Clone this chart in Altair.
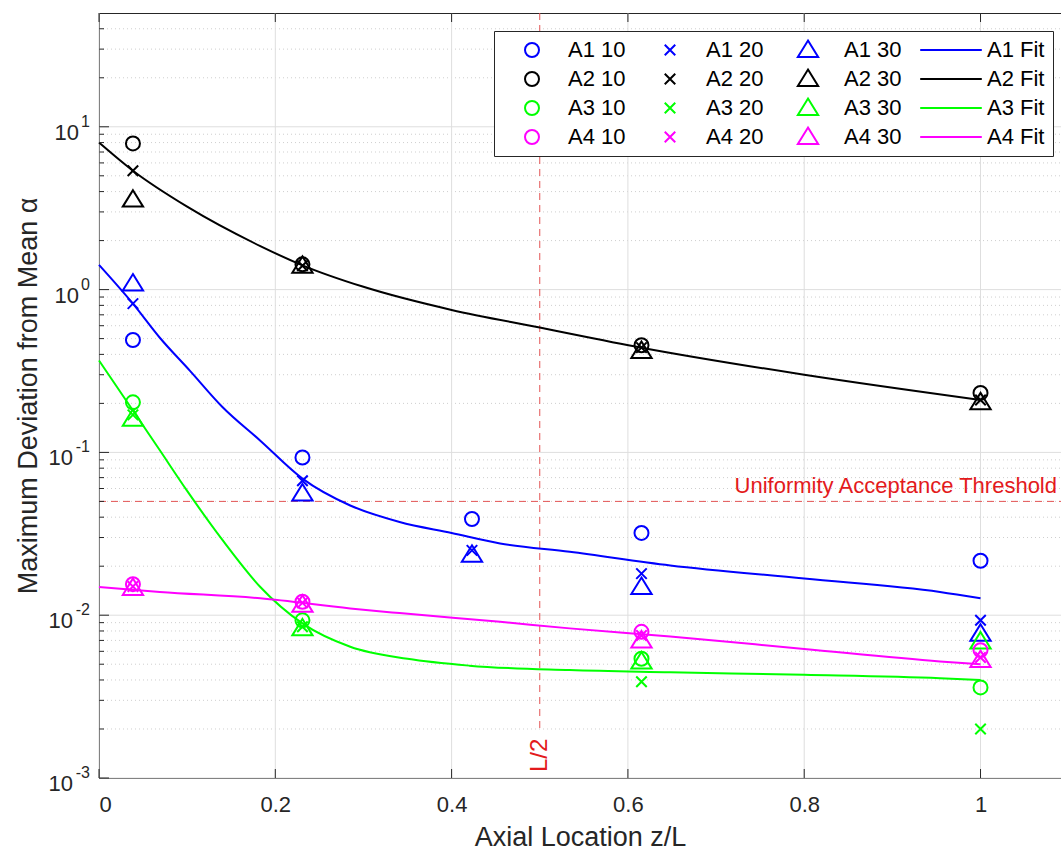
import altair as alt
import pandas as pd

# ---------------- data ----------------
X_MEAS = [0.0385, 0.2308, 0.4231, 0.6154, 1.0]

A1_10 = [0.49, 0.093, 0.039, 0.032, 0.0216]
A1_20 = [0.82, 0.067, 0.025, 0.018, 0.0093]
A1_30 = [1.09, 0.056, 0.0235, 0.0149, 0.0077]
A2_10 = [7.9, 1.43, None, 0.455, 0.232]
A2_20 = [5.37, 1.40, None, 0.44, 0.21]
A2_30 = [3.57, 1.40, None, 0.42, 0.203]
A3_10 = [0.203, 0.0093, None, 0.0054, 0.0036]
A3_20 = [0.17, 0.0085, None, 0.0039, 0.0020]
A3_30 = [0.161, 0.0083, None, 0.0052, 0.0069]
A4_10 = [0.0155, 0.0121, None, 0.0079, 0.0061]
A4_20 = [0.0150, 0.0119, None, 0.0075, 0.0055]
A4_30 = [0.0147, 0.0116, None, 0.0070, 0.0053]

A1_FIT_X = [0, 0.0385, 0.069, 0.103, 0.14, 0.183, 0.2308, 0.285, 0.341, 0.4, 0.455, 0.534, 0.648, 0.8, 0.954, 1.0]
A1_FIT_Y = [1.42, 0.82, 0.506, 0.318, 0.19, 0.118, 0.069, 0.0472, 0.0374, 0.032, 0.0276, 0.0245, 0.0202, 0.0168, 0.0139, 0.0127]
A2_FIT_X = [0, 0.0385, 0.1, 0.183, 0.2308, 0.3, 0.4, 0.5, 0.6154, 0.8, 1.0]
A2_FIT_Y = [8.0, 5.37, 3.23, 1.85, 1.41, 1.04, 0.75, 0.585, 0.44, 0.30, 0.21]
A3_FIT_X = [0, 0.0385, 0.069, 0.1, 0.14, 0.183, 0.2308, 0.285, 0.35, 0.42, 0.534, 0.648, 0.8, 0.954, 1.0]
A3_FIT_Y = [0.367, 0.181, 0.103, 0.058, 0.029, 0.0149, 0.0089, 0.0064, 0.0054, 0.0049, 0.0046, 0.00446, 0.0043, 0.0041, 0.0040]
A4_FIT_X = [0, 0.069, 0.183, 0.285, 0.341, 0.455, 0.534, 0.648, 0.8, 0.954, 1.0]
A4_FIT_Y = [0.0149, 0.0139, 0.0127, 0.0110, 0.0103, 0.0091, 0.0083, 0.0074, 0.0062, 0.0052, 0.0050]

THRESHOLD = [0.05]
HALF_L = [0.5]

X_TICKS = [0, 0.2, 0.4, 0.6, 0.8, 1.0]
Y_MAJOR = [0.001, 0.01, 0.1, 1, 10]
Y_EXP = ["-3", "-2", "-1", "0", "1"]
Y_MINOR = [m * d for d in [0.001, 0.01, 0.1, 1] for m in range(2, 10)] + [20, 30, 40]

# legend is filled column by column
SERIES = ["A1 10", "A2 10", "A3 10", "A4 10",
          "A1 20", "A2 20", "A3 20", "A4 20",
          "A1 30", "A2 30", "A3 30", "A4 30",
          "A1 Fit", "A2 Fit", "A3 Fit", "A4 Fit"]
BASE_COLORS = {"A1": "#0000ff", "A2": "#000000", "A3": "#00ff00", "A4": "#ff00ff"}
COLORS = [BASE_COLORS[s.split()[0]] for s in SERIES]

CIRCLE = "circle"
XMARK = "M-0.75,-0.75L0.75,0.75M-0.75,0.75L0.75,-0.75"
TRI = "M0,-1.35L1.45,1.0L-1.45,1.0Z"
LINE = "M-4.4,0L4.4,0"
SHAPE_OF = {"10": CIRCLE, "20": XMARK, "30": TRI, "Fit": LINE}
SHAPES = [SHAPE_OF[s.split()[1]] for s in SERIES]

# ---------------- tables ----------------
meas = {"A1 10": A1_10, "A1 20": A1_20, "A1 30": A1_30,
        "A2 10": A2_10, "A2 20": A2_20, "A2 30": A2_30,
        "A3 10": A3_10, "A3 20": A3_20, "A3 30": A3_30,
        "A4 10": A4_10, "A4 20": A4_20, "A4 30": A4_30}
rows = []
for name, vals in meas.items():
    for x, v in zip(X_MEAS, vals):
        if v is not None:
            rows.append({"x": x, "v": v, "series": name})
pts = pd.DataFrame(rows)

fits = {"A1 Fit": (A1_FIT_X, A1_FIT_Y), "A2 Fit": (A2_FIT_X, A2_FIT_Y),
        "A3 Fit": (A3_FIT_X, A3_FIT_Y), "A4 Fit": (A4_FIT_X, A4_FIT_Y)}
frows = []
for name, (xs_, ys_) in fits.items():
    for i, (x, v) in enumerate(zip(xs_, ys_)):
        frows.append({"x": x, "v": v, "series": name, "o": i})
fit_df = pd.DataFrame(frows)

W, H = 962, 765
FONT = "Liberation Sans"
TXT = "#262626"
XMAX = 1.0913

xs = alt.Scale(domain=[0, XMAX], nice=False, zero=False)
ys = alt.Scale(type="log", domain=[0.001, 50], nice=False)

x_axis = alt.Axis(values=X_TICKS, format="~g", ticks=False, grid=False, domainColor=TXT,
                  labelFont=FONT, labelFontSize=22, labelColor=TXT, labelPadding=16,
                  title="Axial Location z/L", titleFont=FONT, titleFontSize=27,
                  titleFontWeight="normal", titleColor=TXT, titleY=67,
                  titleBaseline="alphabetic")
y_axis = alt.Axis(values=Y_MAJOR, labels=False, ticks=False, grid=False, domainColor=TXT,
                  title="Maximum Deviation from Mean α", titleFont=FONT, titleFontSize=27,
                  titleFontWeight="normal", titleColor=TXT, titleX=-57, titleBaseline="bottom")

ymaj_df = pd.DataFrame({"v": Y_MAJOR, "e": Y_EXP, "ten": ["10"] * len(Y_MAJOR)})
ymin_df = pd.DataFrame({"v": Y_MINOR})
xt_df = pd.DataFrame({"x": X_TICKS})

grid_min = alt.Chart(ymin_df).mark_rule(color="#cfcfcf", strokeDash=[1, 3], strokeWidth=1).encode(
    y=alt.Y("v:Q", scale=ys, axis=y_axis), x=alt.value(0), x2=alt.value(W))
grid_maj = alt.Chart(ymaj_df).mark_rule(color="#dedede", strokeWidth=1).encode(
    y=alt.Y("v:Q", scale=ys), x=alt.value(0), x2=alt.value(W))
grid_x = alt.Chart(xt_df).mark_rule(color="#dedede", strokeWidth=1).encode(
    x=alt.X("x:Q", scale=xs, axis=x_axis), y=alt.value(0), y2=alt.value(H))

tick_ymaj = alt.Chart(ymaj_df).mark_rule(color=TXT).encode(
    y=alt.Y("v:Q", scale=ys), x=alt.value(0), x2=alt.value(10))
tick_ymin = alt.Chart(ymin_df).mark_rule(color=TXT).encode(
    y=alt.Y("v:Q", scale=ys), x=alt.value(0), x2=alt.value(5))
tick_xb = alt.Chart(xt_df).mark_rule(color=TXT).encode(
    x=alt.X("x:Q", scale=xs), y=alt.value(H), y2=alt.value(H - 9))
tick_xt = alt.Chart(xt_df).mark_rule(color=TXT).encode(
    x=alt.X("x:Q", scale=xs), y=alt.value(0), y2=alt.value(9))

# y tick labels as 10 with superscript exponent
ten_pos = alt.Chart(ymaj_df).transform_filter("datum.v >= 1").mark_text(
    align="right", baseline="middle", dy=6, font=FONT, fontSize=22, color=TXT).encode(
    y=alt.Y("v:Q", scale=ys), x=alt.value(-20), text="ten:N")
ten_neg = alt.Chart(ymaj_df).transform_filter("datum.v < 1").mark_text(
    align="right", baseline="middle", dy=6, font=FONT, fontSize=22, color=TXT).encode(
    y=alt.Y("v:Q", scale=ys), x=alt.value(-26), text="ten:N")
exps = alt.Chart(ymaj_df).mark_text(
    align="right", baseline="middle", dy=-5, font=FONT, fontSize=16, color=TXT).encode(
    y=alt.Y("v:Q", scale=ys), x=alt.value(-9), text="e:N")

thr_df = pd.DataFrame({"v": THRESHOLD, "label": ["Uniformity Acceptance Threshold"]})
half_df = pd.DataFrame({"x": HALF_L, "label": ["L/2"]})

RED_LINE = "#e35555"
RED_TXT = "#e31a1c"
thr_line = alt.Chart(thr_df).mark_rule(color=RED_LINE, strokeDash=[7, 5], strokeWidth=1).encode(
    y=alt.Y("v:Q", scale=ys), x=alt.value(0), x2=alt.value(W))
thr_text = alt.Chart(thr_df).mark_text(align="right", baseline="bottom", dy=-3, color=RED_TXT,
                                        font=FONT, fontSize=22).encode(
    y=alt.Y("v:Q", scale=ys), x=alt.value(W - 4), text="label:N")
half_line = alt.Chart(half_df).mark_rule(color=RED_LINE, strokeDash=[7, 5], strokeWidth=1).encode(
    x=alt.X("x:Q", scale=xs), y=alt.value(0), y2=alt.value(H - 50))
half_text = alt.Chart(half_df).mark_text(align="left", baseline="middle", angle=270, color=RED_TXT,
                                          font=FONT, fontSize=24).encode(
    x=alt.X("x:Q", scale=xs), y=alt.value(H - 6), text="label:N")

leg = alt.Legend(orient="none", legendX=395, legendY=18, columns=4, title=None,
                 symbolStrokeWidth=2, symbolSize=196, symbolOffset=19,
                 labelFont=FONT, labelFontSize=22, labelColor="#000000", labelOffset=25,
                 columnPadding=14, rowPadding=4, padding=8,
                 strokeColor=TXT, fillColor="white")

color_scale = alt.Scale(domain=SERIES, range=COLORS)
shape_scale = alt.Scale(domain=SERIES, range=SHAPES)

points = alt.Chart(pts).mark_point(filled=False, strokeWidth=2, size=196, opacity=1).encode(
    x=alt.X("x:Q", scale=xs),
    y=alt.Y("v:Q", scale=ys),
    color=alt.Color("series:N", scale=color_scale, legend=leg, sort=SERIES),
    shape=alt.Shape("series:N", scale=shape_scale, legend=leg, sort=SERIES),
)

lines = alt.Chart(fit_df).mark_line(strokeWidth=2, interpolate="monotone").encode(
    x=alt.X("x:Q", scale=xs),
    y=alt.Y("v:Q", scale=ys),
    color=alt.Color("series:N", scale=color_scale, legend=None),
    detail="series:N",
    order="o:Q",
)

chart = alt.layer(
    grid_min, grid_maj, grid_x, thr_line, half_line, thr_text, half_text,
    points, lines, tick_ymaj, tick_ymin, tick_xb, tick_xt, ten_pos, ten_neg, exps,
).properties(
    width=W, height=H,
    padding={"left": 99, "top": 13, "right": 0, "bottom": 74},
    autosize=alt.AutoSizeParams(type="none"),
    background="white",
).configure_view(stroke=TXT, strokeWidth=1)

chart.save("out.html", embed_options={"renderer": "svg", "actions": False})
